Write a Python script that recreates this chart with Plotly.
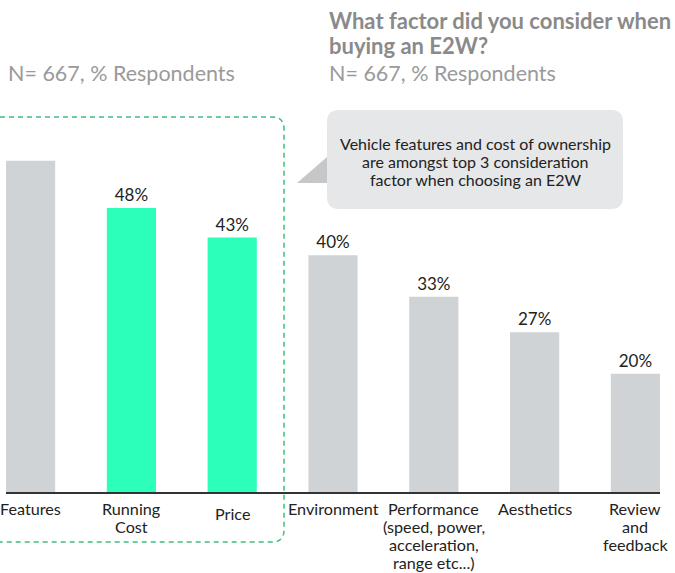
import plotly.graph_objects as go

categories = ["Features", "Running<br>Cost", "Price", "Environment",
              "Performance<br>(speed, power,<br>acceleration,<br>range etc...)",
              "Aesthetics", "Review<br>and<br>feedback"]
values = [56, 48, 43, 40, 33, 27, 20]
labels = ["", "48%", "43%", "40%", "33%", "27%", "20%"]
highlight = [False, True, True, False, False, False, False]
callout_lines = ["Vehicle features and cost of ownership",
                 "are amongst top 3 consideration",
                 "factor when choosing an E2W"]
title_lines = ["What factor did you consider when", "buying an E2W?"]
subtitle = "N= 667, % Respondents"

GRAY = "#D0D3D6"
GREEN = "#2CFFB9"
FONT = "Lato"

W, H = 675, 573
ML, MR, MT, MB = 6, 15, 137, 81
PW = W - ML - MR
PH = H - MT - MB


def px(x):
    return (x - ML) / PW


def py(y):
    return (H - MB - y) / PH


fig = go.Figure()
fig.add_trace(go.Bar(
    x=list(range(len(categories))), y=values,
    marker_color=[GREEN if h else GRAY for h in highlight],
    marker_line_width=0,
    width=0.488,
    text=labels, textposition="outside",
    textfont=dict(size=17, color="#222222", family=FONT),
    cliponaxis=False,
    hoverinfo="skip",
))


def rounded_path(x0, y0, x1, y1, r):
    pts = [
        (x0 + r, y0), (x1 - r, y0), ("Q", x1, y0, x1, y0 + r),
        (x1, y1 - r), ("Q", x1, y1, x1 - r, y1),
        (x0 + r, y1), ("Q", x0, y1, x0, y1 - r),
        (x0, y0 + r), ("Q", x0, y0, x0 + r, y0),
    ]
    s = f"M {px(pts[0][0]):.5f},{py(pts[0][1]):.5f}"
    for p in pts[1:]:
        if p[0] == "Q":
            s += f" Q {px(p[1]):.5f},{py(p[2]):.5f} {px(p[3]):.5f},{py(p[4]):.5f}"
        else:
            s += f" L {px(p[0]):.5f},{py(p[1]):.5f}"
    return s + " Z"


shapes = [
    dict(type="path", xref="paper", yref="paper",
         path=rounded_path(-30, 117, 284, 542, 12),
         line=dict(color="#3DBE7E", width=1.5, dash="5px,4px"), layer="above"),
    dict(type="path", xref="paper", yref="paper",
         path=rounded_path(327, 110, 623, 209, 12),
         fillcolor="#E6E7E8", line=dict(width=0), layer="below"),
    dict(type="path", xref="paper", yref="paper",
         path=f"M {px(327)},{py(157)} L {px(297)},{py(183)} L {px(327)},{py(183)} Z",
         fillcolor="#C6C7C8", line=dict(width=0), layer="below"),
]


def ann(text, x, y, size, color, xanchor="left", bold=False, xref="paper"):
    return dict(text=f"<b>{text}</b>" if bold else text,
                x=x, y=py(y), xref=xref, yref="paper",
                xanchor=xanchor, yanchor="middle", showarrow=False,
                font=dict(size=size, color=color, family=FONT))


annotations = [
    ann(subtitle, px(6), 73, 21.5, "#9A9A9A"),
    ann(title_lines[0], px(327), 20, 22, "#8A8A8A", bold=True),
    ann(title_lines[1], px(327), 46, 22, "#8A8A8A", bold=True),
    ann(subtitle, px(327), 73, 21.5, "#9A9A9A"),
]
for i, line in enumerate(callout_lines):
    annotations.append(ann(line, px(475), 143 + 18.5 * i, 16, "#222222", xanchor="center"))

# category labels, one annotation per line, placed on the x scale
for i, cat in enumerate(categories):
    parts = cat.split("<br>")
    y0 = 508
    if cat == "Price":
        y0 = 513
    for j, part in enumerate(parts):
        annotations.append(ann(part, i, y0 + 18.2 * j, 16.2, "#222222",
                               xanchor="center", xref="x"))

fig.update_layout(
    width=W, height=H,
    margin=dict(l=ML, r=MR, t=MT, b=MB),
    paper_bgcolor="white", plot_bgcolor="white",
    showlegend=False, hovermode=False,
    shapes=shapes, annotations=annotations,
    xaxis=dict(range=[-0.244, 6.244], showticklabels=False, showgrid=False,
               zeroline=False, showline=True, linecolor="#333333",
               linewidth=1.5, ticks=""),
    yaxis=dict(range=[0, 60], visible=False),
)

fig.write_html("out.html", config={"displayModeBar": False},
               post_script="document.body.style.margin='0';")
